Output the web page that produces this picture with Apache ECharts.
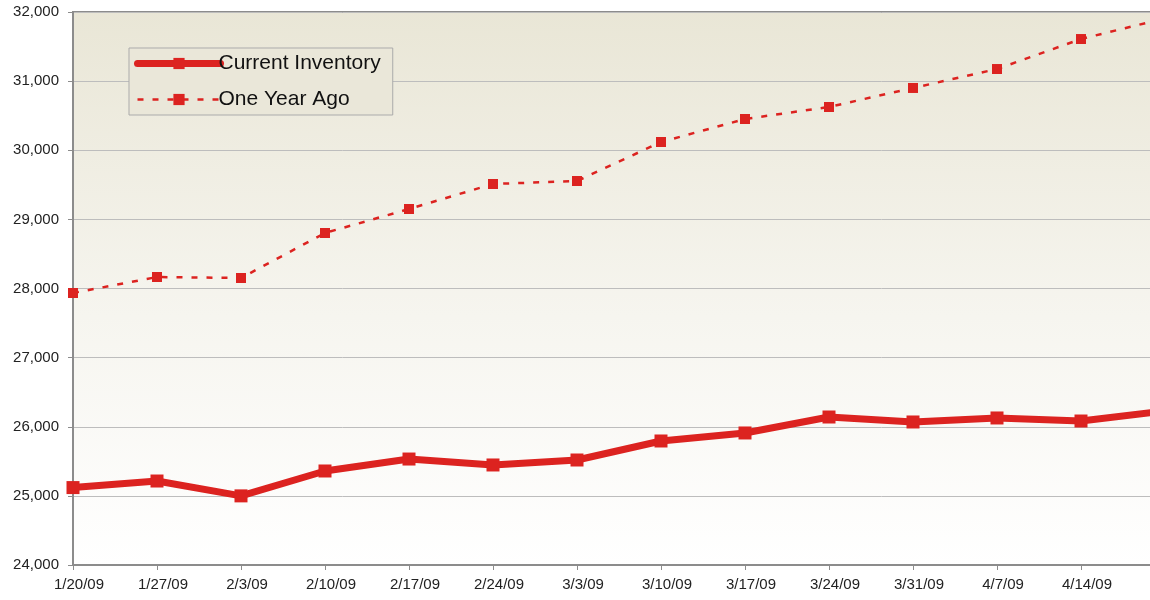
<!DOCTYPE html>
<html>
<head>
<meta charset="utf-8">
<script src="https://cdn.jsdelivr.net/npm/echarts@6/dist/echarts.min.js"></script>
<style>
html,body{margin:0;padding:0;background:#fff;}
#c{width:1150px;height:600px;}
</style>
</head>
<body>
<div id="c"></div>
<script>
const categories = ['1/20/09','1/27/09','2/3/09','2/10/09','2/17/09','2/24/09','3/3/09','3/10/09','3/17/09','3/24/09','3/31/09','4/7/09','4/14/09','4/21/09'];
const currentInventory = [25120, 25215, 25000, 25360, 25533, 25447, 25519, 25794, 25910, 26141, 26069, 26127, 26083, 26230];
const oneYearAgo = [27935, 28166, 28152, 28803, 29150, 29512, 29555, 30119, 30452, 30626, 30901, 31175, 31609, 31908];
const yTicks = { min: 24000, max: 32000, interval: 1000 };

const RED = '#DC2320';
const FONT = 'Liberation Sans, Arial, sans-serif';

const chart = echarts.init(document.getElementById('c'), null, { renderer: 'canvas' });
chart.setOption({
  animation: false,
  backgroundColor: '#ffffff',
  textStyle: { fontFamily: FONT },
  grid: {
    left: 73, top: 12, height: 553, width: 1092,
    outerBoundsMode: 'none',
    containLabel: false,
    show: true,
    borderColor: '#8C8C8C', borderWidth: 2,
    backgroundColor: new echarts.graphic.LinearGradient(0, 0, 0, 1, [
      { offset: 0, color: '#E9E6D6' },
      { offset: 0.55, color: '#F6F5EF' },
      { offset: 1, color: '#FFFFFF' }
    ])
  },
  legend: {
    orient: 'vertical',
    left: 129, top: 48,
    padding: [5, 12, 5, 5],
    itemGap: 15,
    itemWidth: 83,
    itemHeight: 14,
    backgroundColor: '#EAE7D9',
    borderColor: '#ABABAB',
    borderWidth: 1,
    borderRadius: 0,
    textStyle: { fontFamily: FONT, fontSize: 21, color: '#111', lineHeight: 21, padding: [0, 0, 0, -7] },
    data: [
      { name: 'Current Inventory', lineStyle: { width: 7, color: RED, cap: 'round' }, itemStyle: { color: RED } },
      { name: 'One Year Ago', lineStyle: { width: 2.5, color: RED, type: [6, 9] }, itemStyle: { color: RED } }
    ]
  },
  xAxis: {
    type: 'category',
    data: categories,
    boundaryGap: false,
    axisLine: { lineStyle: { color: '#8C8C8C', width: 2 } },
    axisTick: { show: true, length: 5, lineStyle: { color: '#8C8C8C', width: 1 } },
    axisLabel: {
      fontFamily: FONT, fontSize: 15, color: '#222', margin: 12,
      padding: [0, 0, 0, 12],
      interval: function (i) { return i < 13; }
    },
    splitLine: { show: false }
  },
  yAxis: {
    type: 'value',
    min: yTicks.min, max: yTicks.max, interval: yTicks.interval,
    axisLine: { show: true, lineStyle: { color: '#8C8C8C', width: 2 } },
    axisTick: { show: true, length: 5, lineStyle: { color: '#8C8C8C', width: 1 } },
    axisLabel: {
      fontFamily: FONT, fontSize: 15, color: '#222', margin: 14,
      formatter: function (v) { return v.toLocaleString('en-US'); }
    },
    splitLine: { show: true, lineStyle: { color: '#BDBDBD', width: 1 } }
  },
  series: [
    {
      name: 'Current Inventory',
      type: 'line',
      data: currentInventory,
      symbol: 'rect',
      symbolSize: 13,
      showAllSymbol: true,
      lineStyle: { color: RED, width: 7, cap: 'round', join: 'round' },
      itemStyle: { color: RED, borderWidth: 0 },
      z: 3
    },
    {
      name: 'One Year Ago',
      type: 'line',
      data: oneYearAgo,
      symbol: 'rect',
      symbolSize: 10,
      showAllSymbol: true,
      lineStyle: { color: RED, width: 2.5, type: [6, 9] },
      itemStyle: { color: RED, borderWidth: 0 },
      z: 2
    }
  ]
});
</script>
</body>
</html>
